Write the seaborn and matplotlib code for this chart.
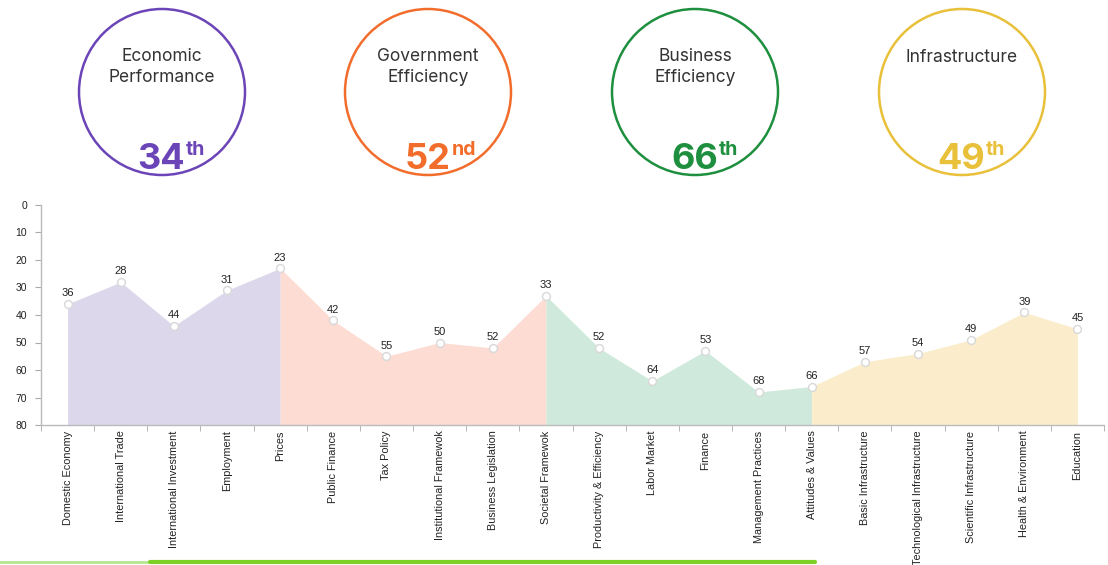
import matplotlib
matplotlib.use("Agg")
import matplotlib.pyplot as plt
from matplotlib.patches import Circle
from matplotlib.lines import Line2D
import seaborn as sns
import pandas as pd

factors = ["Economic\nPerformance", "Government\nEfficiency", "Business\nEfficiency", "Infrastructure"]
factor_ranks = ["34", "52", "66", "49"]
factor_suffix = ["th", "nd", "th", "th"]
factor_colors = ["#6b45b8", "#f26d2b", "#1e8f3e", "#e9c03a"]
fill_colors = ["#ddd7ec", "#fcdcd3", "#cfeadc", "#fbedcc"]

subfactors = ["Domestic Economy", "International Trade", "International Investment", "Employment", "Prices",
              "Public Finance", "Tax Policy", "Institutional Framewok", "Business Legislation", "Societal Framewok",
              "Productivity & Efficiency", "Labor Market", "Finance", "Management Practices", "Attitudes & Values",
              "Basic Infrastructure", "Technological Infrastructure", "Scientific Infrastructure",
              "Health & Environment", "Education"]
ranks = [36, 28, 44, 31, 23, 42, 55, 50, 52, 33, 52, 64, 53, 68, 66, 57, 54, 49, 39, 45]
# index ranges of each factor's segment (shared endpoints)
segments = [(0, 4), (4, 9), (9, 14), (14, 19)]

df = pd.DataFrame({"sub": subfactors, "rank": ranks, "x": range(len(subfactors))})

sns.set_style("white")
plt.rcParams["font.family"] = ["Liberation Sans", "DejaVu Sans"]

W, H = 1108, 565
fig = plt.figure(figsize=(W / 100, H / 100), dpi=100)

# background axes in pixel coordinates for circles
bg = fig.add_axes([0, 0, 1, 1])
bg.set_xlim(0, W)
bg.set_ylim(H, 0)
bg.axis("off")
centers = [162, 428, 695, 962]
for cx, name, rk, suf, col in zip(centers, factors, factor_ranks, factor_suffix, factor_colors):
    bg.add_patch(Circle((cx, 92), 83, fill=False, edgecolor=col, lw=1.8))
    bg.text(cx, 57 if "\n" not in name else 67, name, ha="center", va="center", fontsize=12.5,
            color="#333333", family=["Inter", "DejaVu Sans"], linespacing=1.25)
    bg.text(cx + 23, 169, rk, ha="right", va="baseline", fontsize=26, fontweight="bold",
            color=col, family=["Inter", "DejaVu Sans"])
    bg.text(cx + 24, 155, suf, ha="left", va="baseline", fontsize=14, fontweight="bold",
            color=col, family=["Inter", "DejaVu Sans"])

# bottom decorative lines
fig.add_artist(Line2D([0, 150 / W], [3 / H, 3 / H], color="#b8e68e", lw=2))
fig.add_artist(Line2D([150 / W, 815 / W], [3 / H, 3 / H], color="#7dd126", lw=3))

ax = fig.add_axes([41 / W, 1 - 425 / H, 1063 / W, 220 / H])
for (a, b), fc in zip(segments, fill_colors):
    seg = df.iloc[a:b + 1]
    ax.fill_between(seg["x"], seg["rank"], 80, color=fc, lw=0)
sns.scatterplot(data=df, x="x", y="rank", ax=ax, s=32, color="white", edgecolor="#d8d8d8",
                linewidth=1.0, zorder=5)
for x, r in zip(df["x"], df["rank"]):
    ax.annotate(str(r), (x, r), xytext=(0, 4), textcoords="offset points", ha="center",
                va="bottom", fontsize=8, color="#222222")

ax.set_xlim(-0.5, len(subfactors) - 0.5)
ax.set_ylim(80, 0)
ax.set_yticks(range(0, 81, 10))
ax.set_xticks(df["x"])
ax.set_xticklabels(subfactors, rotation=90, fontsize=7.8, color="#222222", va="top")
ax.set_xticks([i + 0.5 for i in range(-1, len(subfactors))], minor=True)
ax.tick_params(axis="x", which="major", length=0, pad=4)
ax.tick_params(axis="x", which="minor", length=4, color="#aaaaaa", direction="out", bottom=True)
ax.tick_params(axis="y", length=4, color="#aaaaaa", labelsize=7.5, labelcolor="#222222",
               direction="out", left=True, pad=6)
ax.set_xlabel("")
ax.set_ylabel("")
for s in ["top", "right"]:
    ax.spines[s].set_visible(False)
for s in ["left", "bottom"]:
    ax.spines[s].set_color("#bbbbbb")
    ax.spines[s].set_linewidth(1)
ax.patch.set_alpha(0)

fig.savefig("out.png", dpi=100)
